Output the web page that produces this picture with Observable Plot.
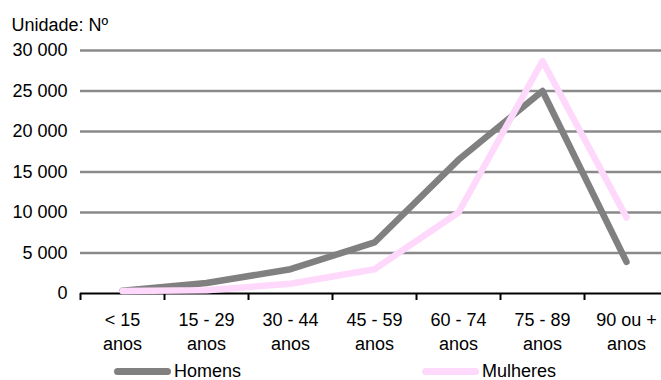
<!DOCTYPE html>
<html>
<head>
<meta charset="utf-8">
<script src="https://cdn.jsdelivr.net/npm/d3@7"></script>
<script src="https://cdn.jsdelivr.net/npm/@observablehq/plot@0.6"></script>
<style>
  html, body { margin: 0; padding: 0; background: #fff; overflow: hidden; }
  #wrap { position: relative; width: 661px; height: 380px; font-family: "Liberation Sans", Arial, sans-serif; color: #000; }
  #unit { position: absolute; left: 11.5px; top: 16px; font-size: 18px; line-height: 18px; white-space: nowrap; }
  #chart { position: absolute; left: 0; top: 38px; }
  #legend { position: absolute; left: 0; top: 356px; width: 661px; height: 24px; font-size: 18px; }
  .item { position: absolute; top: 0; height: 24px; }
  .swatch { position: absolute; top: 11.5px; width: 57px; height: 7px; border-radius: 3.5px; }
  .item span.lab { position: absolute; left: 60px; top: 6px; line-height: 18px; white-space: nowrap; }
</style>
</head>
<body>
<div id="wrap">
  <div id="unit">Unidade: Nº</div>
  <div id="chart"></div>
  <div id="legend"></div>
</div>
<script>
// Age groups (x categories) and their two-line tick labels
const categories = ["< 15 anos", "15 - 29 anos", "30 - 44 anos", "45 - 59 anos", "60 - 74 anos", "75 - 89 anos", "90 ou + anos"];
const tickLabels = ["< 15\nanos", "15 - 29\nanos", "30 - 44\nanos", "45 - 59\nanos", "60 - 74\nanos", "75 - 89\nanos", "90 ou +\nanos"];

// Counts per age group
const homens   = [350, 1300, 3000, 6300, 16500, 25000, 3900];
const mulheres = [300, 400, 1200, 3000, 10000, 28700, 9400];

// Series names and colours
const seriesNames  = ["Homens", "Mulheres"];
const seriesColors = ["#808080", "#ffd9fb"];

// Y axis ticks
const yTicks = [0, 5000, 10000, 15000, 20000, 25000, 30000];

const rows = [
  ...categories.map((c, i) => ({age: c, value: homens[i], sex: seriesNames[0]})),
  ...categories.map((c, i) => ({age: c, value: mulheres[i], sex: seriesNames[1]}))
];

const fmt = d3.formatLocale({decimal: ",", thousands: " ", grouping: [3], currency: ["", ""]}).format(",d");
const labelOf = new Map(categories.map((c, i) => [c, tickLabels[i]]));

const width = 661, height = 318;
const marginLeft = 80, marginRight = -7, marginTop = 12, marginBottom = 63;
const band = (width - marginRight - marginLeft) / categories.length;

const chart = Plot.plot({
  width, height, marginLeft, marginRight, marginTop, marginBottom,
  style: {fontFamily: "'Liberation Sans', Arial, sans-serif", fontSize: "18px", color: "#000", background: "transparent", overflow: "visible"},
  x: {type: "band", domain: categories, padding: 0, label: null},
  y: {domain: [0, 30000], label: null},
  color: {domain: seriesNames, range: seriesColors},
  marks: [
    Plot.ruleY(yTicks.filter(d => d > 0), {stroke: "#8a8a8a", strokeWidth: 2.3}),
    Plot.axisY({ticks: yTicks, tickSize: 0, tickPadding: 13, tickFormat: fmt, fontSize: 18, label: null}),
    // tick marks at the boundaries between age groups
    Plot.axisX({tickSize: 7, tickFormat: () => "", dx: -band / 2, stroke: "#000", strokeWidth: 2, label: null}),
    Plot.axisX({tickSize: 0, tickPadding: 16, tickFormat: d => labelOf.get(d), fontSize: 18, lineHeight: 1.33, label: null}),
    Plot.ruleY([0], {stroke: "#000", strokeWidth: 2}),
    Plot.line(rows, {x: "age", y: "value", z: "sex", stroke: "sex", strokeWidth: 6.5, strokeLinecap: "round", strokeLinejoin: "round"})
  ]
});
document.getElementById("chart").appendChild(chart);

// Legend below the plot
const legend = document.getElementById("legend");
const legendX = [114, 422];
seriesNames.forEach((name, i) => {
  const item = document.createElement("div");
  item.className = "item";
  item.style.left = legendX[i] + "px";
  const sw = document.createElement("div");
  sw.className = "swatch";
  sw.style.background = seriesColors[i];
  const lab = document.createElement("span");
  lab.className = "lab";
  lab.textContent = name;
  item.appendChild(sw);
  item.appendChild(lab);
  legend.appendChild(item);
});
</script>
</body>
</html>
